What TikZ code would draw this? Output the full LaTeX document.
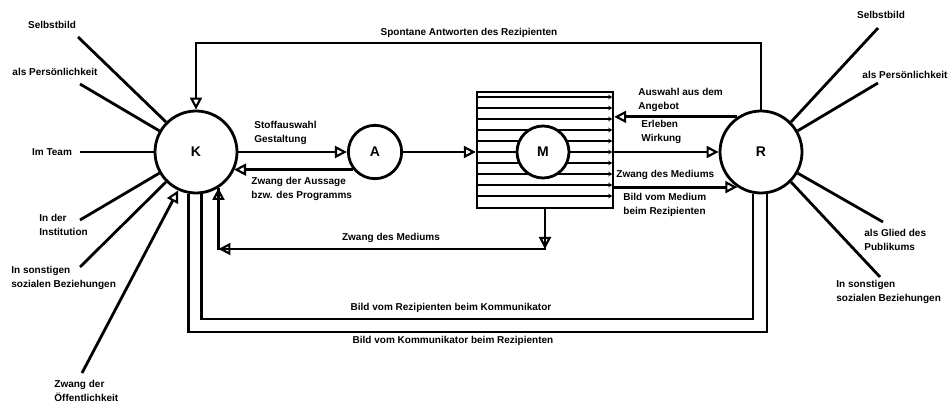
\documentclass[tikz,border=0pt]{standalone}
\usepackage{fontspec}
\setmainfont{Liberation Sans}
\usetikzlibrary{arrows.meta}

\begin{document}
\begin{tikzpicture}[x=0.75pt, y=-0.75pt, line width=2.1pt,
    arr/.style={-{Triangle[open, length=9pt, width=9pt, line width=1.6pt]}},
    big/.style={circle, draw, fill=white, inner sep=0pt, font=\fontsize{10.5}{12}\selectfont\bfseries},
    lbl/.style={font=\fontsize{7.5}{11}\selectfont\bfseries, inner sep=0pt, align=left}]
    \useasboundingbox (0,0) rectangle (952,409);

    % Kommunikator, Aussage, Rezipient
    \node[big, minimum size=61.5pt] (K) at (196,152) {K};
    \node[big, minimum size=40pt] (A) at (375,152) {A};
    \node[big, minimum size=61.5pt] (R) at (761,152) {R};

    % Medium
    \node[draw, line width=1.8pt, minimum width=102pt, minimum height=87pt, inner sep=0pt] (mbox) at (545,150) {};
    \foreach \y in {97,108,...,196} {
        \draw[line width=1.4pt, -{Stealth[length=3pt, width=3.5pt]}] (mbox.west |- 0,\y) -- ([xshift=-1.5pt]mbox.east |- 0,\y);
    }
    \node[big, minimum size=39pt] (M) at (543,152) {M};

    % Hauptfluss
    \draw[arr] (K.east) -- (A.west);
    \draw[arr] (A.219) -- (A.219 -| K.334);
    \draw[arr] (A.east) -- (mbox.west |- A.east);
    \draw[arr] (mbox.east |- M.east) -- (R.west);
    \draw[arr] (R.124) -- (R.124 -| mbox.east);
    \draw[arr] (R.236 -| mbox.east) -- (R.236);

    % Spontane Antworten
    \draw[arr] (R.north) -- (R.north |- 0,43) -- (K.north |- 0,43) -- (K.north);

    % Zwang des Mediums (unten)
    \coordinate (c1) at (mbox.south |- 0,249);
    \coordinate (c2) at (K.302 |- 0,249);
    \draw (mbox.south) -- (c1) -- (c2) -- (K.302);
    \draw[arr] (mbox.south) -- (c1);
    \draw[arr] (c1) -- (c2);
    \draw[arr] (c2) -- (K.302);

    % Bilder
    \draw (K.277) -- (K.277 |- 0,319) -- (R.259 |- 0,319) -- (R.259);
    \draw (K.260) -- (K.260 |- 0,332) -- (R.278 |- 0,332) -- (R.278);

    % Beschriftungen Mitte
    \node[lbl] (tspont) at (469,33) {Spontane Antworten des Rezipienten};
    \node[lbl, anchor=west] (tstoff) at (253,133) {Stoffauswahl\\Gestaltung};
    \node[lbl, anchor=west] (taussage) at (250,189) {Zwang der Aussage\\bzw. des Programms};
    \node[lbl] (tzwang) at (391,238) {Zwang des Mediums};
    \node[lbl, anchor=west] (tauswahl) at (637,100) {Auswahl aus dem\\Angebot};
    \node[lbl, anchor=west] (terleben) at (640,132) {Erleben\\Wirkung};
    \node[lbl, anchor=west] (tzwangr) at (615,175) {Zwang des Mediums};
    \node[lbl, anchor=west] (tbildm) at (622,205) {Bild vom Medium\\beim Rezipienten};
    \node[lbl] (tbildr) at (451,308) {Bild vom Rezipienten beim Kommunikator};
    \node[lbl] (tbildk) at (453,341) {Bild vom Kommunikator beim Rezipienten};

    % Kommunikator: Einfluesse
    \node[lbl] (ksb) at (52,25) {Selbstbild};
    \node[lbl] (kpers) at (55,72) {als Persönlichkeit};
    \node[lbl] (kteam) at (52,152) {Im Team};
    \node[lbl, anchor=west] (kinst) at (38,225) {In der\\Institution};
    \node[lbl, anchor=west] (ksoz) at (10,278) {In sonstigen\\sozialen Beziehungen};
    \node[lbl, anchor=west] (koeff) at (53,391) {Zwang der\\Öffentlichkeit};
    \coordinate (l1) at (78,37);
    \coordinate (l2) at (80,84);
    \coordinate (l3) at (80,152);
    \coordinate (l4) at (80,220);
    \coordinate (l5) at (80,267);
    \coordinate (l6) at (82,373);
    \draw (l1) -- (K.135);
    \draw (l2) -- (K.150);
    \draw (l3) -- (K.180);
    \draw (l4) -- (K.210);
    \draw (l5) -- (K.225);
    \draw[arr] (l6) -- (K.245);

    % Rezipient: Einfluesse
    \node[lbl] (rsb) at (881,15) {Selbstbild};
    \node[lbl] (rpers) at (905,75) {als Persönlichkeit};
    \node[lbl, anchor=west] (rglied) at (863,240) {als Glied des\\Publikums};
    \node[lbl, anchor=west] (rsoz) at (835,292) {In sonstigen\\sozialen Beziehungen};
    \coordinate (r1) at (878,28);
    \coordinate (r2) at (878,83);
    \coordinate (r3) at (883,222);
    \coordinate (r4) at (880,277);
    \draw (r1) -- (R.45);
    \draw (r2) -- (R.30);
    \draw (r3) -- (R.330);
    \draw (r4) -- (R.315);
\end{tikzpicture}
\end{document}
